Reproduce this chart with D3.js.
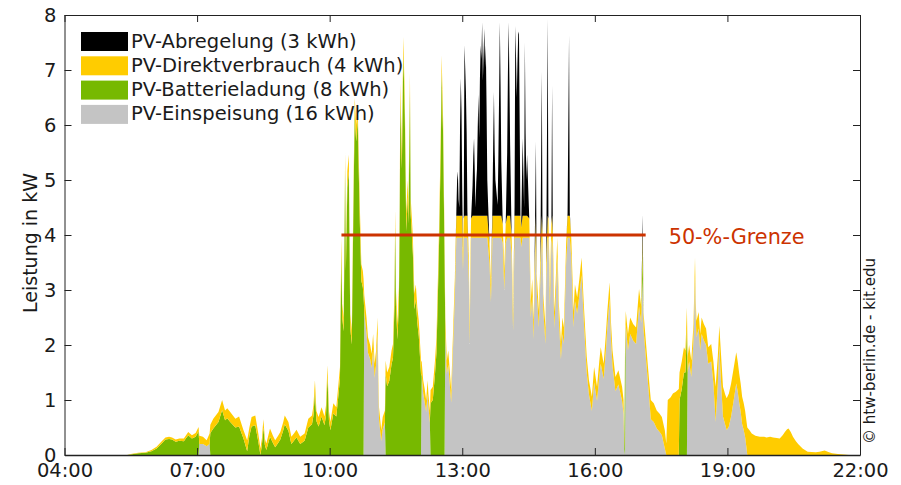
<!DOCTYPE html>
<html><head><meta charset="utf-8">
<script src="https://cdn.jsdelivr.net/npm/d3@7"></script>
<style>
html,body{margin:0;padding:0;background:#fff;}
svg{display:block;font-family:"DejaVu Sans",Verdana,sans-serif;}
</style></head><body>
<svg id="chart" width="901" height="485"></svg>
<script>
// ---------------- DATA ----------------
const times = [
"05:00","05:25","05:30","05:40","05:50","05:58","06:05","06:12","06:17","06:22",
"06:26","06:31","06:36","06:42","06:48","06:53","06:58","07:02","07:03","07:08",
"07:13","07:17","07:18","07:22","07:29","07:34","07:38","07:41","07:45","07:52",
"07:57","08:03","08:08","08:11","08:14","08:19","08:23","08:26","08:28","08:30",
"08:32","08:34","08:39","08:43","08:46","08:50","08:53","08:57","08:59","09:04",
"09:08","09:12","09:15","09:20","09:26","09:31","09:36","09:38","09:40","09:42",
"09:45","09:49","09:53","09:55","09:57","09:59","10:01","10:05","10:09","10:12",
"10:14","10:15","10:16","10:17","10:19","10:20","10:21","10:22","10:24","10:26",
"10:28","10:30","10:32","10:34","10:36","10:38","10:41","10:43","10:45","10:46",
"10:47","10:50","10:52","10:55","10:57","10:59","11:01","11:03","11:05","11:06",
"11:07","11:10","11:12","11:15","11:16","11:18","11:21","11:24","11:26","11:28",
"11:29","11:30","11:32","11:34","11:35","11:36","11:38","11:40","11:42","11:44",
"11:46","11:47","11:49","11:50","11:53","11:55","11:57","11:59","12:01","12:04",
"12:05","12:07","12:09","12:11","12:13","12:14","12:16","12:17","12:20","12:23",
"12:25","12:27","12:29","12:31","12:32","12:34","12:35","12:36","12:37","12:39",
"12:41","12:43","12:45","12:47","12:50","12:52","12:53","12:54","12:55","12:56",
"12:57","12:58","12:59","13:00","13:01","13:02","13:03","13:04","13:05","13:06",
"13:07","13:09","13:10","13:11","13:12","13:14","13:15","13:16","13:17","13:18",
"13:19","13:20","13:21","13:22","13:23","13:24","13:25","13:26","13:27","13:28",
"13:29","13:30","13:31","13:32","13:33","13:34","13:37","13:39","13:41","13:42",
"13:43","13:44","13:45","13:48","13:49","13:50","13:51","13:52","13:53","13:55",
"13:57","13:59","14:01","14:02","14:03","14:04","14:05","14:07","14:09","14:11",
"14:12","14:13","14:14","14:15","14:16","14:17","14:18","14:19","14:20","14:22",
"14:24","14:25","14:26","14:27","14:28","14:31","14:33","14:35","14:37","14:38",
"14:40","14:41","14:44","14:46","14:48","14:49","14:50","14:53","14:54","14:56",
"14:57","14:59","15:01","15:02","15:03",
"15:05","15:07","15:09","15:11","15:14","15:16","15:18","15:21","15:23","15:25",
"15:26","15:28","15:31","15:33","15:36","15:39","15:42","15:45","15:49","15:52",
"15:56","15:59","16:03","16:06","16:08","16:12","16:15","16:17","16:20","16:22",
"16:24","16:28","16:32","16:37","16:39","16:40","16:41","16:42","16:45","16:48",
"16:52","16:56","17:00","17:03","17:05","17:06","17:07","17:11","17:14","17:16",
"17:20","17:24","17:28","17:31","17:35","17:37","17:39","17:43","17:46","17:50",
"17:54","17:55","17:58","18:01","18:03","18:05","18:06","18:08","18:11","18:14",
"18:16","18:17","18:18","18:21","18:23","18:25","18:28","18:31","18:34","18:38",
"18:41","18:44","18:47","18:49","18:51","18:54","18:57","18:59","19:02","19:05",
"19:08","19:12","19:14","19:16","19:18","19:20","19:22","19:24","19:26","19:27",
"19:30","19:33","19:38","19:44","19:50","19:53","19:58","20:02","20:07","20:11",
"20:15","20:18","20:21","20:23","20:26","20:29","20:33","20:36","20:42","20:49",
"21:00","21:05","21:12","21:18","21:22","21:30","21:38","21:45","22:00"
];

// PV-Einspeisung (grid feed-in), kW
const einspeisung = [
0,0,0,0,0,0,0,0,0,0,
0,0,0,0,0,0,0,0,.20,.20,
.16,.20,0,0,0,0,0,0,0,0,
0,0,0,0,0,0,0,0,0,0,
0,0,0,0,0,0,0,0,0,0,
0,0,0,0,0,0,0,0,0,0,
0,0,0,0,0,0,0,0,0,0,
0,0,0,0,0,0,0,0,0,0,
0,0,0,0,0,0,0,0,0,0,
2.60,2.22,1.86,1.74,1.58,1.92,1.40,1.64,2.20,1.25,
.65,.25,.47,.59,0,0,0,0,0,0,
0,0,0,0,0,0,0,0,0,0,
0,0,0,0,0,0,0,0,0,0,
1.44,1.12,.96,.78,1.12,.88,.59,0,0,0,
0,0,0,0,0,0,0,0,2.22,1.47,
1.64,1.30,.95,1.76,2.93,3.95,3.95,3.95,3.95,3.95,
3.95,3.95,3.95,3.95,3.35,3.95,3.95,3.95,3.95,3.95,
3.95,3.15,2.02,3.15,3.95,3.95,3.95,3.95,3.95,3.95,
3.95,3.95,3.95,3.95,3.95,3.95,3.95,3.95,3.95,3.95,
3.95,3.95,3.95,3.95,3.95,3.95,3.48,2.78,3.95,3.95,
3.95,3.95,3.95,3.95,3.95,3.95,3.95,3.95,3.95,3.85,
3.00,3.85,3.95,3.95,3.95,3.95,3.95,3.65,2.26,3.95,
3.95,3.95,3.95,3.95,3.95,3.95,3.95,3.95,3.78,3.95,
3.95,3.95,3.95,3.95,3.95,3.95,2.50,2.88,2.10,2.98,
3.95,2.98,2.32,3.18,3.95,3.65,2.63,2.02,3.18,3.95,
3.95,2.70,3.85,3.95,3.65,
2.30,2.88,3.60,2.50,1.74,2.20,2.02,3.48,3.95,3.95,
3.95,3.60,2.32,2.80,2.57,2.90,3.27,2.45,1.50,1.10,
.80,1.32,.98,1.42,1.66,1.38,1.90,2.32,2.84,2.10,
1.62,1.16,1.28,.98,.75,.10,0,2.37,1.90,2.20,
2.08,2.02,2.70,2.40,3.20,2.30,2.14,1.50,1.00,.65,
.60,.48,.42,.36,.12,0,0,0,0,0,
0,0,0,0,0,0,1.50,1.70,1.42,2.10,
3.25,2.50,2.14,2.30,1.90,2.20,2.08,2.00,1.66,1.70,
1.30,.60,1.30,2.00,1.40,.70,.55,.45,.52,.70,
.95,1.30,1.15,.95,.78,.56,.46,.33,.12,0,
0,0,0,0,0,0,0,0,0,0,
0,0,0,0,0,0,0,0,0,0,
0,0,0,0,0,0,0,0,0
];

// PV-Batterieladung (battery charging), kW
const batterie = [
0,0,.01,.03,.04,.07,.12,.21,.28,.29,
.28,.24,.26,.25,.36,.30,.33,.43,0,0,
0,0,.40,.48,.60,.82,.63,.67,.60,.50,
.52,.30,.07,.35,.52,.54,.25,0,.18,.50,
.18,.09,.33,.22,.14,.22,.28,.45,.56,.44,
.20,.27,.32,.20,.26,.50,.56,.72,1.16,.62,
.52,.70,.54,.72,1.43,.63,.45,.76,.70,1.10,
1.40,2.68,3.65,2.50,2.25,3.70,5.20,3.35,4.86,5.16,
2.31,2.01,4.20,6.20,5.70,6.10,4.20,3.17,3.05,2.90,
0,0,0,0,0,0,0,0,0,0,
0,0,0,0,1.47,1.25,1.35,1.65,1.77,2.72,
4.16,2.72,2.10,2.75,4.20,6.46,5.20,7.30,6.20,4.07,
4.70,4.20,6.64,4.38,3.65,2.65,2.82,2.40,2.16,1.47,
0,0,0,0,0,0,0,.94,1.00,1.47,
1.86,2.93,4.13,5.70,6.97,5.82,4.70,3.53,0,0,
0,0,0,0,0,0,0,0,0,0,
0,0,0,0,0,0,0,0,0,0,
0,0,0,0,0,0,0,0,0,0,
0,0,0,0,0,0,0,0,0,0,
0,0,0,0,0,0,0,0,0,0,
0,0,0,0,0,0,0,0,0,0,
0,0,0,0,0,0,0,0,0,0,
0,0,0,0,0,0,0,0,0,0,
0,0,0,0,0,0,0,0,0,0,
0,0,0,0,0,0,0,0,0,0,
0,0,0,0,0,
0,0,0,0,0,0,0,0,0,0,
0,0,0,0,0,0,0,0,0,0,
0,0,0,0,0,0,0,0,0,0,
0,0,0,0,0,0,1.75,0,0,0,
0,0,0,0,.60,0,0,0,0,0,
0,0,0,0,0,0,0,0,0,0,
0,1.00,1.20,1.50,1.50,2.30,0,0,0,0,
0,0,0,0,0,0,0,0,0,0,
0,0,0,0,0,0,0,0,0,0,
0,0,0,0,0,0,0,0,0,0,
0,0,0,0,0,0,0,0,0,0,
0,0,0,0,0,0,0,0,0,0,
0,0,0,0,0,0,0,0,0
];

// PV-Direktverbrauch (direct consumption), kW
const direkt = [
0,0,.01,.01,.01,.02,.03,.04,.04,.04,
.04,.04,.04,.05,.06,.06,.07,.08,.15,.13,
.11,.19,.15,.18,.18,.18,.18,.18,.18,.16,
.18,.15,.20,.15,.17,.18,.15,.12,.12,.15,
.12,.12,.15,.13,.13,.13,.14,.15,.16,.16,
.13,.13,.14,.13,.13,.16,.16,.18,.20,.18,
.17,.17,.16,.18,.20,.17,.15,.18,.17,.20,
.20,.25,.30,.25,.25,.30,.30,.25,.30,.30,
.25,.25,.30,.30,.30,.30,.30,.30,.30,.30,
.30,.28,.28,.26,.26,.28,.26,.26,.30,.25,
.22,.20,.22,.22,.25,.25,.25,.25,.25,.28,
.30,.28,.28,.30,.30,.30,.30,.30,.30,.30,
.30,.30,.30,.30,.30,.28,.28,.28,.28,.25,
.25,.24,.24,.22,.24,.24,.22,.24,.24,.25,
.28,.30,.30,.30,.30,.30,.30,.30,.28,.25,
.26,.24,.23,.26,.30,.40,.40,.40,.40,.40,
.40,.40,.40,.40,.35,.35,.40,.40,.40,.40,
.40,.35,.30,.35,.35,.40,.40,.40,.40,.40,
.40,.40,.40,.40,.40,.40,.40,.40,.40,.40,
.40,.40,.40,.40,.40,.40,.35,.32,.40,.40,
.40,.40,.40,.40,.40,.40,.40,.40,.40,.35,
.35,.35,.40,.40,.40,.40,.40,.35,.30,.40,
.40,.40,.40,.40,.40,.40,.40,.40,.35,.40,
.40,.40,.40,.40,.40,.35,.30,.32,.30,.32,
.40,.32,.30,.32,.40,.35,.30,.30,.32,.40,
.35,.30,.35,.40,.35,
.30,.32,.35,.30,.28,.30,.30,.35,.40,.40,
.40,.35,.30,.30,.30,.30,.32,.30,.28,.26,
.26,.28,.26,.28,.30,.28,.30,.30,.30,.30,
.28,.26,.26,.26,.25,.10,.25,.25,.30,.30,
.30,.30,.32,.30,.20,.30,.30,.28,.30,.35,
.34,.33,.33,.33,.33,.21,1.00,1.05,1.12,1.15,
1.20,.50,.50,.46,.40,.38,.28,.30,.30,.30,
.34,.30,.30,.30,.30,.30,.30,.30,.30,.32,
.40,.64,.50,.35,.50,.54,.55,.58,.60,.60,
.59,.57,.55,.53,.52,.50,.49,.48,.48,.50,
.45,.39,.35,.33,.33,.32,.33,.32,.31,.30,
.36,.42,.47,.48,.42,.33,.25,.20,.12,.06,
.05,.06,.08,.05,.03,.02,.01,0,0
];

// PV-Abregelung (curtailment), kW
const abregelung = [
0,0,0,0,0,0,0,0,0,0,
0,0,0,0,0,0,0,0,0,0,
0,0,0,0,0,0,0,0,0,0,
0,0,0,0,0,0,0,0,0,0,
0,0,0,0,0,0,0,0,0,0,
0,0,0,0,0,0,0,0,0,0,
0,0,0,0,0,0,0,0,0,0,
0,0,0,0,0,0,0,0,0,0,
0,0,0,0,0,0,0,0,0,0,
0,0,0,0,0,0,0,0,0,0,
0,0,0,0,0,0,0,0,0,0,
0,0,0,0,0,0,0,0,0,0,
0,0,0,0,0,0,0,0,0,0,
0,0,0,0,0,0,0,0,0,0,
0,0,0,0,0,0,0,0,0,0,
0,0,0,0,0,.08,.65,.81,.30,.15,
1.60,2.50,1.90,.45,0,0,3.10,2.70,2.25,1.50,
.08,0,0,0,0,.55,1.10,1.41,.80,.15,
.60,.85,1.60,2.20,1.41,2.50,3.10,2.85,3.52,2.45,
2.95,3.40,2.70,3.10,2.00,.65,0,0,.25,1.30,
2.25,1.20,.65,.20,1.00,2.15,3.52,2.40,.99,0,
0,0,1.15,2.60,3.52,2.50,1.29,0,0,.15,
3.45,2.90,2.15,2.80,3.30,3.35,1.65,.02,0,1.41,
.15,3.15,1.50,.65,1.11,0,0,0,0,0,
1.35,0,0,0,2.62,0,0,0,0,3.58,
0,0,0,2.37,0,
0,0,0,0,0,0,0,0,.05,3.28,
.05,0,0,0,0,0,0,0,0,0,
0,0,0,0,0,0,0,0,0,0,
0,0,0,0,0,0,0,0,0,0,
0,0,0,0,.37,0,0,0,0,0,
0,0,0,0,0,0,0,0,0,0,
0,0,0,0,0,0,0,0,0,0,
0,0,0,0,0,0,0,0,0,0,
0,0,0,0,0,0,0,0,0,0,
0,0,0,0,0,0,0,0,0,0,
0,0,0,0,0,0,0,0,0,0,
0,0,0,0,0,0,0,0,0,0,
0,0,0,0,0,0,0,0,0
];

const seriesKeys   = ["einspeisung", "batterie", "direkt", "abregelung"]; // stack order bottom→top
const legendOrder  = ["abregelung", "direkt", "batterie", "einspeisung"];
const seriesLabels = {
  abregelung:  "PV-Abregelung (3 kWh)",
  direkt:      "PV-Direktverbrauch (4 kWh)",
  batterie:    "PV-Batterieladung (8 kWh)",
  einspeisung: "PV-Einspeisung (16 kWh)"
};
const seriesColors = {
  abregelung:  "#000000",
  direkt:      "#ffcc00",
  batterie:    "#77b900",
  einspeisung: "#c4c4c4"
};
const xTickLabels = ["04:00","07:00","10:00","13:00","16:00","19:00","22:00"];
const yTickValues = [0,1,2,3,4,5,6,7,8];
const limitValue = 4;
const limitFrom  = "10:16";
const limitTo    = "17:09";
const limitLabel = "50-%-Grenze";
const yTitle = "Leistung in kW";
const credit = "\u00A9 htw-berlin.de - kit.edu";

[einspeisung, batterie, direkt, abregelung].forEach((a, k) => {
  if (a.length !== times.length) throw new Error("length mismatch in series " + k + ": " + a.length + " vs " + times.length);
});

// ---------------- CHART ----------------
const W = 901, H = 485;
const M = {left: 64.5, right: 41, top: 15, bottom: 30};
const parse = d3.timeParse("%H:%M");
const fmt = d3.timeFormat("%H:%M");

const rows = times.map((t, i) => ({
  date: parse(t),
  einspeisung: einspeisung[i],
  batterie: batterie[i],
  direkt: direkt[i],
  abregelung: abregelung[i]
}));

const svg = d3.select("#chart");
const x = d3.scaleTime()
  .domain([parse(xTickLabels[0]), parse(xTickLabels[xTickLabels.length - 1])])
  .range([M.left, W - M.right]);
const y = d3.scaleLinear().domain([0, 8]).range([H - M.bottom, M.top]);

const layers = d3.stack().keys(seriesKeys)(rows);
const area = d3.area()
  .x(d => x(d.data.date))
  .y0(d => y(d[0]))
  .y1(d => y(d[1]))
  .curve(d3.curveLinear);

svg.append("g").selectAll("path")
  .data(layers)
  .join("path")
  .attr("fill", d => seriesColors[d.key])
  .attr("d", area);

// 50 % limit line
svg.append("line")
  .attr("x1", x(parse(limitFrom))).attr("x2", x(parse(limitTo)))
  .attr("y1", y(limitValue)).attr("y2", y(limitValue))
  .attr("stroke", "#cc3300").attr("stroke-width", 3);
svg.append("text")
  .attr("x", x(parse(limitTo)) + 23).attr("y", y(limitValue) + 9)
  .attr("fill", "#cc3300").attr("font-size", "20.8px")
  .text(limitLabel);

// axes
const tickDates = xTickLabels.map(parse);
const axisColor = "#222";
function styleAxis(g) {
  g.selectAll(".domain").attr("stroke", axisColor).attr("stroke-width", 1);
  g.selectAll(".tick line").attr("stroke", axisColor).attr("stroke-width", 1);
  g.selectAll(".tick text").attr("fill", "#1a1a1a").attr("font-size", "19.5px")
    .attr("font-family", "'DejaVu Sans', Verdana, sans-serif");
}
const gx = svg.append("g").attr("transform", `translate(0,${H - M.bottom})`)
  .call(d3.axisBottom(x).tickValues(tickDates).tickFormat(fmt).tickSizeInner(-7).tickSizeOuter(0).tickPadding(8));
styleAxis(gx);
gx.select(".domain").attr("stroke-width", 1.6);
const gxt = svg.append("g").attr("transform", `translate(0,${M.top})`)
  .call(d3.axisTop(x).tickValues(tickDates).tickFormat(() => "").tickSizeInner(-7).tickSizeOuter(0));
styleAxis(gxt);
const gy = svg.append("g").attr("transform", `translate(${M.left},0)`)
  .call(d3.axisLeft(y).tickValues(yTickValues).tickFormat(d3.format("d")).tickSizeInner(-7).tickSizeOuter(0).tickPadding(8));
styleAxis(gy);
const gyr = svg.append("g").attr("transform", `translate(${W - M.right},0)`)
  .call(d3.axisRight(y).tickValues(yTickValues).tickFormat(() => "").tickSizeInner(-7).tickSizeOuter(0));
styleAxis(gyr);

// y title
svg.append("text")
  .attr("transform", `translate(37,${(M.top + H - M.bottom) / 2 + 8}) rotate(-90)`)
  .attr("text-anchor", "middle").attr("font-size", "19px").attr("fill", "#1a1a1a")
  .text(yTitle);

// credit
svg.append("text")
  .attr("transform", `translate(875,351) rotate(-90)`)
  .attr("text-anchor", "middle").attr("font-size", "15px").attr("fill", "#1a1a1a")
  .text(credit);

// legend
const lg = svg.append("g");
legendOrder.forEach((k, i) => {
  const yy = 32 + i * 24.3;
  lg.append("rect").attr("x", 81).attr("y", yy).attr("width", 47).attr("height", 19)
    .attr("fill", seriesColors[k]);
  lg.append("text").attr("x", 131).attr("y", yy + 15.5)
    .attr("font-size", "19.5px").attr("fill", "#1a1a1a").text(seriesLabels[k]);
});
</script>
</body></html>
